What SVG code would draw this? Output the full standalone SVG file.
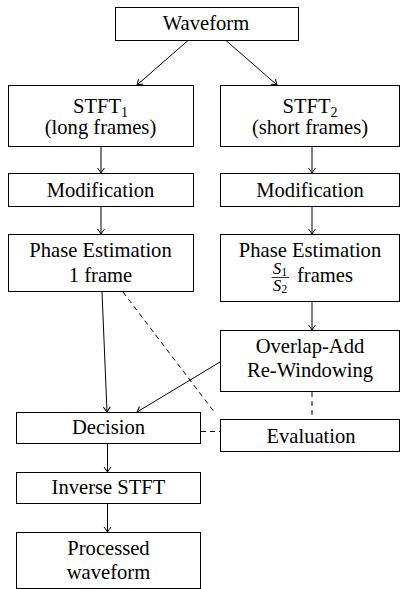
<svg xmlns="http://www.w3.org/2000/svg" width="400" height="589" viewBox="0 0 400 589">
<defs>
<style>
rect{fill:#fff;stroke:#000;stroke-width:1}
text{font-family:'Liberation Serif','DejaVu Serif',serif;font-size:20.6px;fill:#000;text-anchor:middle}
.c line{stroke:#000;stroke-width:1;fill:none}
.d{stroke-dasharray:5,4}
.a{marker-end:url(#ah)}
</style>
<marker id="ah" markerUnits="userSpaceOnUse" markerWidth="12" markerHeight="12" viewBox="-6 -6 12 12" refX="0" refY="0" orient="auto">
<path d="M-5,-3.5 Q-1.5,-0.8 0,0 Q-1.5,0.8 -5,3.5" fill="none" stroke="#000" stroke-width="1"/>
</marker>
</defs>
<rect x="0" y="0" width="400" height="589" style="stroke:none"/>
<g class="c" id="connectors">
<line class="a" x1="188" y1="40.5" x2="137" y2="85"/>
<line class="a" x1="226" y1="40.5" x2="277" y2="85"/>
<line class="a" x1="101" y1="147" x2="101" y2="173"/>
<line class="a" x1="312" y1="147" x2="312" y2="173"/>
<line class="a" x1="101" y1="207" x2="101" y2="234"/>
<line class="a" x1="312" y1="207" x2="312" y2="234"/>
<line class="a" x1="312" y1="302" x2="312" y2="330"/>
<line class="a" x1="102" y1="292" x2="107" y2="412"/>
<line class="a" x1="220" y1="362" x2="137" y2="412"/>
<line class="a" x1="107.5" y1="444" x2="107.5" y2="472"/>
<line class="a" x1="107.5" y1="504" x2="107.5" y2="532"/>
<line class="d" x1="123" y1="292" x2="215" y2="413"/>
<line class="d" x1="312" y1="392" x2="312" y2="419"/>
<line class="d" x1="201" y1="431.5" x2="220" y2="431.5"/>
</g>
<g font-family="Liberation Serif, serif">
<g id="waveform"><rect x="115.5" y="7.5" width="183" height="33"/><text x="206" y="30">Waveform</text></g>
<g id="stft1"><rect x="8.5" y="85.5" width="185" height="61"/><text x="100.5" y="113">STFT<tspan style="font-size:14px" dy="4">1</tspan></text><text x="100.5" y="134">(long frames)</text></g>
<g id="stft2"><rect x="220.5" y="85.5" width="179" height="61"/><text x="310" y="113">STFT<tspan style="font-size:14px" dy="4">2</tspan></text><text x="310" y="134">(short frames)</text></g>
<g id="mod1"><rect x="8.5" y="173.5" width="185" height="33"/><text x="100.5" y="197">Modification</text></g>
<g id="mod2"><rect x="220.5" y="173.5" width="179" height="33"/><text x="310" y="197">Modification</text></g>
<g id="pe1"><rect x="8.5" y="234.5" width="185" height="57"/><text x="100.5" y="257">Phase Estimation</text><text x="100.5" y="282">1 frame</text></g>
<g id="pe2"><rect x="220.5" y="234.5" width="179" height="67"/><text x="310" y="257">Phase Estimation</text>
<text x="280" y="274" style="font-size:17px"><tspan font-style="italic">S</tspan><tspan style="font-size:12px" dy="2">1</tspan></text>
<line x1="271.5" y1="277.5" x2="289" y2="277.5" stroke="#000" stroke-width="0.8"/>
<text x="280" y="291" style="font-size:17px"><tspan font-style="italic">S</tspan><tspan style="font-size:12px" dy="2">2</tspan></text>
<text x="297" y="282" style="text-anchor:start">frames</text></g>
<g id="ola"><rect x="220.5" y="330.5" width="179" height="61"/><text x="310" y="353">Overlap-Add</text><text x="310" y="377">Re-Windowing</text></g>
<g id="decision"><rect x="16.5" y="412.5" width="184" height="31"/><text x="108.5" y="434">Decision</text></g>
<g id="evaluation"><rect x="220.5" y="419.5" width="179" height="32"/><text x="311" y="443">Evaluation</text></g>
<g id="istft"><rect x="16.5" y="472.5" width="184" height="31"/><text x="108.5" y="494">Inverse STFT</text></g>
<g id="processed"><rect x="16.5" y="532.5" width="184" height="56"/><text x="108.5" y="555">Processed</text><text x="108.5" y="579">waveform</text></g>
</g>
</svg>
